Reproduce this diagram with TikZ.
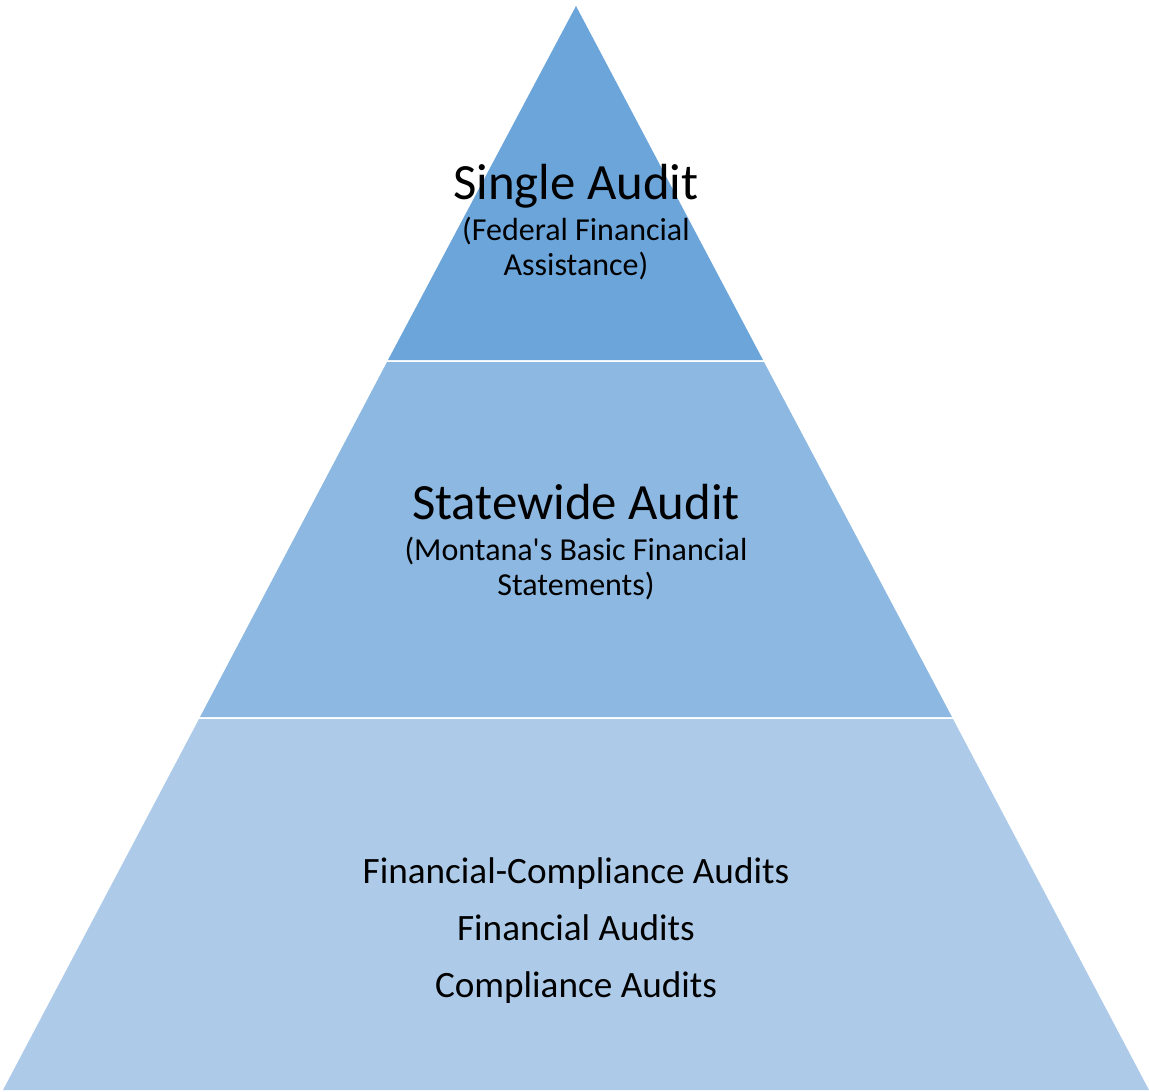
\documentclass[tikz,border=0pt]{standalone}
\usepackage{fontspec}
\setmainfont{Carlito}[Ligatures=TeXOff]
\definecolor{tierA}{HTML}{6BA5DA}
\definecolor{tierB}{HTML}{8CB8E1}
\definecolor{tierC}{HTML}{ADCBE9}
\begin{document}
\begin{tikzpicture}[x=1pt,y=-1pt,
  head/.style={font=\fontsize{50.8}{56}\selectfont, inner sep=0pt},
  sub/.style={font=\fontsize{32}{35}\selectfont, align=center, inner sep=0pt},
  list/.style={font=\fontsize{37.2}{57}\selectfont, align=center, inner sep=0pt}]
\useasboundingbox (0,0) rectangle (1149,1092);
% tiers
\fill[tierC] (199,719) -- (953,719) -- (1149,1090) -- (3,1090) -- cycle;
\fill[tierB] (387,362) -- (764,362) -- (952,717) -- (200,717) -- cycle;
\fill[tierA] (576,6) -- (763,360) -- (388,360) -- cycle;
% labels
\node[head] (single) at (576,186) {Single Audit};
\node[sub] (singlesub) at (576,249) {(Federal Financial\\Assistance)};
\node[head] (state) at (576,502) {Statewide Audit};
\node[sub] (statesub) at (576,569) {(Montana's Basic Financial\\Statements)};
\node[list] (base) at (576,931) {Financial-Compliance Audits\\Financial Audits\\Compliance Audits};
\end{tikzpicture}
\end{document}
